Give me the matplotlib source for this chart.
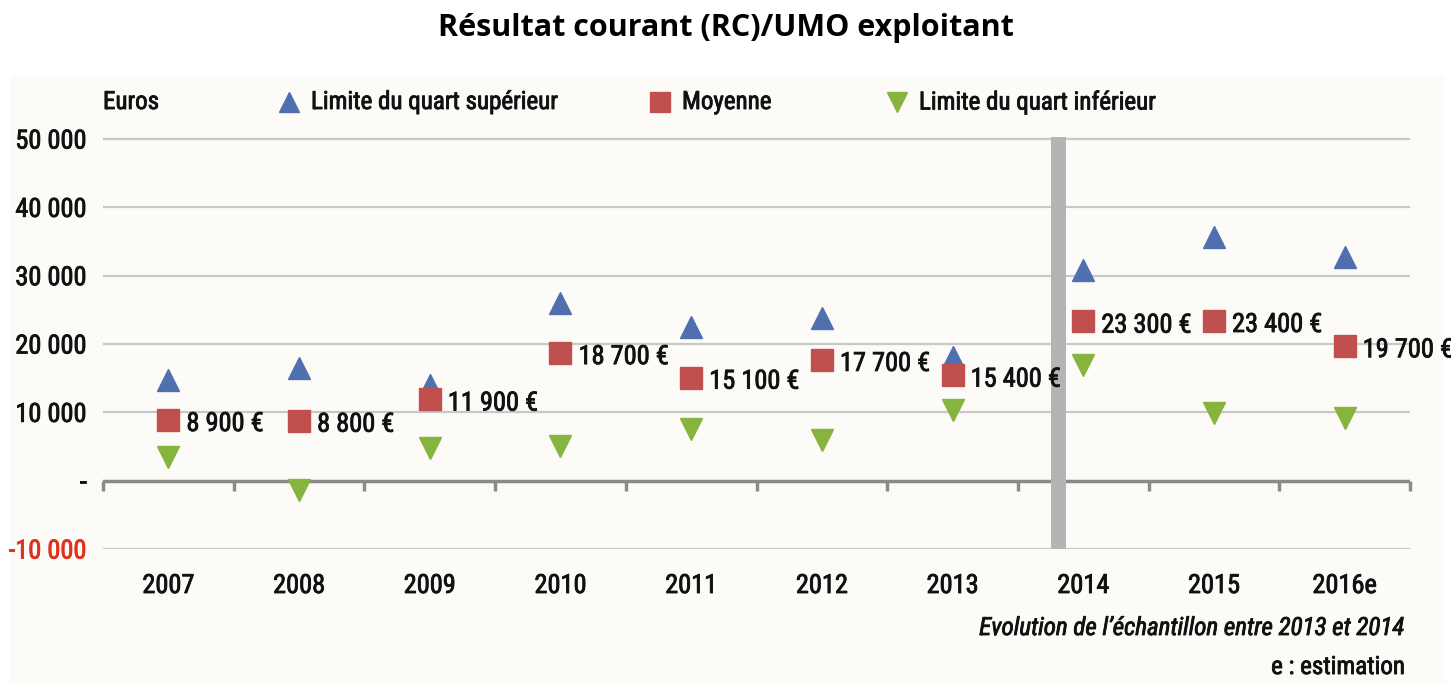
import matplotlib
matplotlib.use("Agg")
import matplotlib.pyplot as plt
from matplotlib.patches import Rectangle
from matplotlib import font_manager as fm
from matplotlib import patheffects as pe
from matplotlib.transforms import ScaledTranslation

years = ["2007", "2008", "2009", "2010", "2011", "2012", "2013", "2014", "2015", "2016e"]
upper_quartile = [14800, 16500, 14000, 26000, 22500, 23800, 18100, 30800, 35600, 32800]
mean_values = [8900, 8800, 11900, 18700, 15100, 17700, 15400, 23300, 23400, 19700]
lower_quartile = [3400, -1300, 4800, 5100, 7600, 6000, 10400, 16900, 9900, 9200]
mean_labels = ["8 900 €", "8 800 €", "11 900 €", "18 700 €", "15 100 €", "17 700 €",
               "15 400 €", "23 300 €", "23 400 €", "19 700 €"]
ytick_vals = [-10000, 0, 10000, 20000, 30000, 40000, 50000]
ytick_labels = ["-10 000", "-", "10 000", "20 000", "30 000", "40 000", "50 000"]


def find_condensed(italic=False):
    pri = []
    for f in fm.fontManager.ttflist:
        name = f.name
        st = str(f.stretch)
        is_cond = ("Narrow" in name or "Condensed" in name or "Condensed" in f.fname
                   or st in ("condensed", "semi-condensed", "extra-condensed")
                   or (st.isdigit() and int(st) < 500))
        if not is_cond:
            continue
        if (f.style != "normal") != italic:
            continue
        w = f.weight if isinstance(f.weight, int) else 400 if f.weight in ("normal", "regular", "book") else 700
        if w >= 600:
            continue
        rank = 5
        if "Liberation Sans Narrow" in name:
            rank = 0
        elif "Roboto Condensed" in name:
            rank = 1
        elif "Open Sans" in name:
            rank = 2
        elif "DejaVu Sans" in name and "Mono" not in name:
            rank = 3
        elif "Mono" in name or "Serif" in name:
            rank = 9
        pri.append((rank, f.fname))
    pri.sort()
    return pri[0][1] if pri else None


reg_path = find_condensed(False)
ita_path = find_condensed(True)


def fp(size, italic=False):
    path = ita_path if italic else reg_path
    if path:
        return fm.FontProperties(fname=path, size=size)
    return fm.FontProperties(family="DejaVu Sans", size=size * 0.8,
                             style="italic" if italic else "normal")


BLUE = "#4f6fae"
RED = "#c0504d"
GREEN = "#86b43c"
GRID = "#c8c8c8"
AXIS = "#8a8a8a"
TXT = "#111111"
HEAVY = [pe.withStroke(linewidth=0.6, foreground=TXT)]

W, H = 1451, 683
fig = plt.figure(figsize=(W / 100, H / 100), dpi=100)
fig.patch.set_facecolor("white")
bg = fig.add_axes([10 / W, 0, 1435 / W, (H - 75) / H], zorder=-5)
bg.set_facecolor("#fcfbf8")
bg.set_xticks([])
bg.set_yticks([])
for s in bg.spines.values():
    s.set_visible(False)

ax = fig.add_axes([103 / W, (H - 549) / H, (1410 - 103) / W, (549 - 137) / H])
ax.set_facecolor("none")
ax.set_xlim(-0.5, 9.5)
ax.set_ylim(-10000, 50300)

for v in ytick_vals:
    if v == 0:
        continue
    ax.axhline(v, color=GRID, lw=1.6, zorder=1)
ax.axhline(0, color=AXIS, lw=2.5, zorder=2)
for b in range(11):
    ax.plot([b - 0.5, b - 0.5], [0, -1500], color=AXIS, lw=2.5, zorder=2,
            solid_capstyle="butt", clip_on=False)

ax.add_patch(Rectangle((6.75, -10000), 0.12, 60300, facecolor="#b4b4b4",
                       edgecolor="none", zorder=3))

x = list(range(len(years)))
ax.plot(x, upper_quartile, linestyle="none", marker="^", markersize=16, color=BLUE, zorder=5)
ax.plot(x, mean_values, linestyle="none", marker="s", markersize=15.5, color=RED, zorder=5)
ax.plot(x, lower_quartile, linestyle="none", marker="v", markersize=16, color=GREEN, zorder=5)

for xi, yv, lab in zip(x, mean_values, mean_labels):
    ax.annotate(lab, (xi, yv), xytext=(13, -3), textcoords="offset points",
                ha="left", va="center", fontproperties=fp(19), color=TXT, zorder=6,
                path_effects=HEAVY)

for s in ax.spines.values():
    s.set_visible(False)
ax.set_xticks(x)
ax.set_xticklabels(years, color=TXT)
shift = ScaledTranslation(9 / 100, 0, fig.dpi_scale_trans)
for lbl in ax.get_xticklabels():
    lbl.set_fontproperties(fp(19))
    lbl.set_path_effects(HEAVY)
    lbl.set_transform(lbl.get_transform() + shift)
ax.tick_params(axis="x", length=0, pad=18)
ax.set_yticks(ytick_vals)
ax.set_yticklabels(ytick_labels)
ax.tick_params(axis="y", length=0, pad=12)
for lbl, v in zip(ax.get_yticklabels(), ytick_vals):
    col = "#e0301e" if v < 0 else TXT
    lbl.set_fontproperties(fp(19))
    lbl.set_color(col)
    lbl.set_path_effects([pe.withStroke(linewidth=0.6, foreground=col)])

fig.text(0.5, 1 - 28 / H, "Résultat courant (RC)/UMO exploitant", ha="center", va="center",
         fontsize=22, fontweight="bold", family=["Open Sans", "DejaVu Sans"])

ly = 1 - 102 / H
fig.text(103 / W, ly, "Euros", ha="left", va="center", fontproperties=fp(18), color=TXT,
         path_effects=HEAVY)
legend_items = [(289, "^", BLUE, "Limite du quart supérieur"),
                (660, "s", RED, "Moyenne"),
                (897, "v", GREEN, "Limite du quart inférieur")]
for px, mk, col, txt in legend_items:
    fig.add_artist(plt.Line2D([px / W], [ly], marker=mk, markersize=15 if mk != "s" else 14,
                              color=col, linestyle="none", transform=fig.transFigure))
    fig.text((px + 22) / W, ly, txt, ha="left", va="center", fontproperties=fp(18), color=TXT,
             path_effects=HEAVY)

fig.text(1405 / W, 1 - 628 / H, "Evolution de l’échantillon entre 2013 et 2014", ha="right",
         va="center", fontproperties=fp(18, italic=True), color=TXT, path_effects=HEAVY)
fig.text(1405 / W, 1 - 667 / H, "e : estimation", ha="right", va="center",
         fontproperties=fp(18), color=TXT, path_effects=HEAVY)

fig.savefig("out.png", dpi=100, facecolor=fig.get_facecolor())
